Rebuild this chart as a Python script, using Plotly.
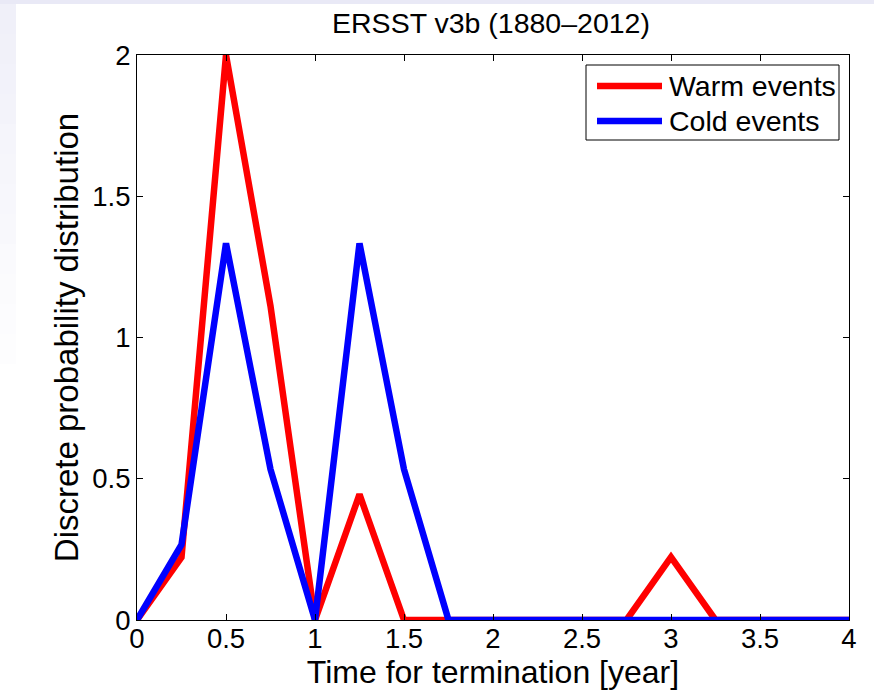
import plotly.graph_objects as go

# Bin centres (years) and discrete probability densities per bin
time_years = [0, 0.25, 0.5, 0.75, 1, 1.25, 1.5, 1.75, 2, 2.25, 2.5, 2.75, 3, 3.25, 3.5, 3.75, 4]
warm_pdf = [0, 0.2222, 2.0, 1.1111, 0, 0.4444, 0, 0, 0, 0, 0, 0, 0.2222, 0, 0, 0, 0]
cold_pdf = [0, 0.2667, 1.3333, 0.5333, 0, 1.3333, 0.5333, 0, 0, 0, 0, 0, 0, 0, 0, 0, 0]

series = [
    ("Warm events", warm_pdf, "#ff0000"),
    ("Cold events", cold_pdf, "#0000ff"),
]

x_ticks = [0, 0.5, 1, 1.5, 2, 2.5, 3, 3.5, 4]
y_ticks = [0, 0.5, 1, 1.5, 2]

FONT = "Liberation Sans, Arial, Helvetica, sans-serif"
W, H = 874, 696
L, R, T, B = 137, 25, 55, 76
PW, PH = W - L - R, H - T - B


def px_x(p):
    return (p - L) / PW


def px_y(p):
    return (H - B - p) / PH


fig = go.Figure()
for name, vals, color in series:
    fig.add_trace(go.Scatter(
        x=time_years, y=vals, mode="lines", name=name,
        line=dict(color=color, width=6.5), showlegend=False,
    ))

shapes = []
annotations = []

# slide background: pale band along the top and a fading strip on the left
shapes.append(dict(type="rect", xref="paper", yref="paper", layer="below",
                   x0=px_x(0), x1=px_x(W), y0=px_y(4), y1=px_y(0),
                   fillcolor="#e9e9f6", line=dict(width=0)))
n_bands = 12
for i in range(n_bands):
    y_top = 4 + i * 30
    frac = 1 - i / n_bands
    r = int(255 - 15 * frac)
    g = int(255 - 15 * frac)
    b = int(255 - 6 * frac)
    shapes.append(dict(type="rect", xref="paper", yref="paper", layer="below",
                       x0=px_x(0), x1=px_x(16), y0=px_y(y_top + 30), y1=px_y(y_top),
                       fillcolor=f"rgb({r},{g},{b})", line=dict(width=0)))

# legend box
shapes.append(dict(type="rect", xref="paper", yref="paper",
                   x0=px_x(586), x1=px_x(839), y0=px_y(140), y1=px_y(65),
                   fillcolor="white", line=dict(color="black", width=1)))
for k, (name, vals, color) in enumerate(series):
    yy = 86 + 35 * k
    shapes.append(dict(type="line", xref="paper", yref="paper",
                       x0=px_x(597), x1=px_x(662), y0=px_y(yy), y1=px_y(yy),
                       line=dict(color=color, width=6.5)))
    annotations.append(dict(xref="paper", yref="paper", x=px_x(667), y=px_y(yy),
                            xanchor="left", yanchor="middle", showarrow=False,
                            text=name, font=dict(family=FONT, size=28.5, color="black")))

fig.update_layout(
    width=W, height=H,
    margin=dict(l=L, r=R, t=T, b=B),
    paper_bgcolor="white", plot_bgcolor="white",
    title=dict(text="ERSST v3b (1880\u20132012)", xref="container", x=491 / W,
               xanchor="center", y=1 - 23 / H, yanchor="middle",
               font=dict(family=FONT, size=28.5, color="black")),
    xaxis=dict(
        range=[0, 4], tickvals=x_ticks, ticktext=[f"{v:g}" for v in x_ticks],
        ticks="inside", ticklen=6, tickcolor="black", tickwidth=1,
        showline=True, linecolor="black", linewidth=1, mirror="ticks",
        showgrid=False, zeroline=False, ticklabelstandoff=-6,
        tickfont=dict(family=FONT, size=27.5, color="black"),
        title=dict(text="Time for termination [year]", standoff=0,
                   font=dict(family=FONT, size=32, color="black")),
    ),
    yaxis=dict(
        range=[0, 2], tickvals=y_ticks, ticktext=[f"{v:g}" for v in y_ticks],
        ticks="inside", ticklen=6, tickcolor="black", tickwidth=1,
        showline=True, linecolor="black", linewidth=1, mirror="ticks",
        showgrid=False, zeroline=False,
        tickfont=dict(family=FONT, size=27.5, color="black"),
        title=dict(text="Discrete probability distribution", standoff=3,
                   font=dict(family=FONT, size=33, color="black")),
    ),
    shapes=shapes,
    annotations=annotations,
)

fig.write_html("out.html")
